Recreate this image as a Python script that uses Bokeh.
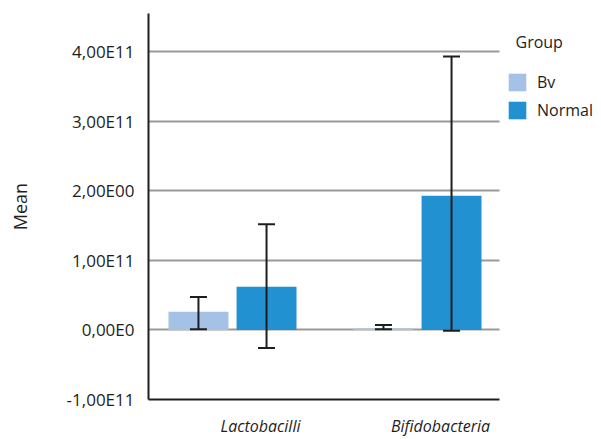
from bokeh.plotting import figure
from bokeh.models import (ColumnDataSource, Range1d, FixedTicker, Whisker, Grid,
                          TeeHead, Legend, LegendItem, LinearAxis, Label)
from bokeh.transform import dodge
from bokeh.embed import file_html
from bokeh.resources import INLINE

categories = ["Lactobacilli", "Bifidobacteria"]
groups = ["Bv", "Normal"]
legend_title = "Group"
bv_mean = [0.26e11, 0.02e11]
bv_low = [0.01e11, 0.01e11]
bv_high = [0.475e11, 0.07e11]
normal_mean = [0.62e11, 1.93e11]
normal_low = [-0.26e11, -0.01e11]
normal_high = [1.52e11, 3.93e11]
tick_values = [-1e11, 0, 1e11, 2e11, 3e11, 4e11]
tick_labels = ["-1,00E11", "0,00E0", "1,00E11", "2,00E00", "3,00E11", "4,00E11"]

FONT = "Open Sans"
INK = "#1e1e1e"
BV_COLOR = "#a3c2e5"
NORMAL_COLOR = "#2191d1"

# layout (pixels)
FRAME_W, FRAME_H = 445, 386      # frame runs to the right edge so the legend fits inside it
PLOT_W = 351                     # width of the drawn chart area (axis line / grid)
BAR_PX, GROUP_PX = 185, 84       # px per category, first category centre from left
LAB_PX, LAB0_PX = 180, 112       # category label spacing / first label centre

idx = list(range(len(categories)))
src = ColumnDataSource(dict(i=idx, bv=bv_mean, bv_lo=bv_low, bv_hi=bv_high,
                            nm=normal_mean, nm_lo=normal_low, nm_hi=normal_high))

x0 = -GROUP_PX / BAR_PX
p = figure(frame_width=FRAME_W, frame_height=FRAME_H,
           x_range=Range1d(x0, x0 + FRAME_W / BAR_PX), y_range=Range1d(-1e11, 4.55e11),
           output_backend="svg", toolbar_location=None,
           min_border_left=148, min_border_right=0, min_border_top=13, min_border_bottom=0)
p.outline_line_color = None

OFF = 0.184
BW = 0.324
r_bv = p.vbar(x=dodge("i", -OFF), top="bv", bottom=0, width=BW,
              source=src, fill_color=BV_COLOR, line_color=None)
r_nm = p.vbar(x=dodge("i", OFF), top="nm", bottom=0, width=BW,
              source=src, fill_color=NORMAL_COLOR, line_color=None)

for base_off, lo, hi in [(-OFF, "bv_lo", "bv_hi"), (OFF, "nm_lo", "nm_hi")]:
    w = Whisker(base=dodge("i", base_off), lower=lo, upper=hi, source=src, level="overlay",
                line_color=INK, line_width=2,
                upper_head=TeeHead(size=17, line_color=INK, line_width=2),
                lower_head=TeeHead(size=17, line_color=INK, line_width=2))
    p.add_layout(w)

# grid, limited to the chart area
p.xgrid.visible = False
x_end = x0 + PLOT_W / BAR_PX
p.ygrid.ticker = FixedTicker(ticks=tick_values[1:])
p.ygrid.grid_line_color = "#9a9a9a"
p.ygrid.grid_line_width = 2
if "cross_bounds" in Grid.properties():
    p.ygrid.cross_bounds = (x0, x_end)
else:
    p.ygrid.visible = False
    p.segment(x0=x0, x1=x_end, y0=tick_values[1:], y1=tick_values[1:],
              line_color="#9a9a9a", line_width=2, level="underlay")

# y axis
p.yaxis.ticker = FixedTicker(ticks=tick_values)
p.yaxis.major_label_overrides = {v: t for v, t in zip(tick_values, tick_labels)}
p.yaxis.major_tick_line_color = None
p.yaxis.major_tick_out = 0
p.yaxis.minor_tick_line_color = None
p.yaxis.minor_tick_out = 0
p.yaxis.axis_line_color = INK
p.yaxis.axis_line_width = 2
p.yaxis.major_label_text_font = FONT
p.yaxis.major_label_text_font_size = "17px"
p.yaxis.major_label_text_color = INK
p.yaxis.major_label_standoff = 14
p.yaxis.axis_label = "Mean"
p.yaxis.axis_label_text_font = FONT
p.yaxis.axis_label_text_font_style = "normal"
p.yaxis.axis_label_text_font_size = "18px"
p.yaxis.axis_label_text_color = INK
p.yaxis.axis_label_standoff = 32

# x axis: category labels
p.xaxis.visible = False
p.extra_x_ranges = {"lab": Range1d(-LAB0_PX / LAB_PX, (FRAME_W - LAB0_PX) / LAB_PX)}
xa = LinearAxis(x_range_name="lab", ticker=FixedTicker(ticks=idx),
                major_label_overrides={i: c for i, c in zip(idx, categories)},
                bounds=(-LAB0_PX / LAB_PX, (PLOT_W - LAB0_PX) / LAB_PX))
xa.major_tick_line_color = None
xa.major_tick_out = 0
xa.minor_tick_line_color = None
xa.minor_tick_out = 0
xa.axis_line_color = INK
xa.axis_line_width = 2
xa.major_label_text_font = FONT
xa.major_label_text_font_style = "italic"
xa.major_label_text_font_size = "16px"
xa.major_label_text_color = INK
xa.major_label_standoff = 15
p.add_layout(xa, "below")

# legend inside the (wide) frame, right of the chart area
legend = Legend(items=[LegendItem(label=groups[0], renderers=[r_bv]),
                       LegendItem(label=groups[1], renderers=[r_nm])],
                location=(358, 278),
                label_text_font=FONT, label_text_font_size="16px", label_text_color=INK,
                glyph_width=22, glyph_height=22, spacing=6, label_height=22,
                label_standoff=9, background_fill_alpha=0, border_line_color=None,
                padding=0, margin=0)
p.add_layout(legend)
p.add_layout(Label(x=367, y=358, x_units="screen", y_units="screen", text=legend_title,
                   text_baseline="middle", text_font=FONT, text_font_size="16px",
                   text_color=INK))

open("out.html", "w").write(file_html(p, INLINE))
